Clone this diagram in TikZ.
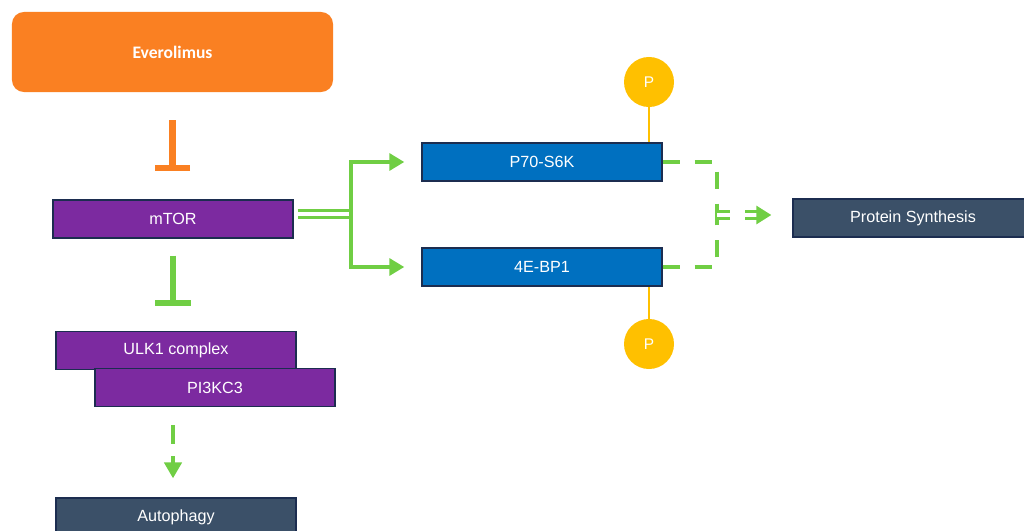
\documentclass[tikz,border=0pt]{standalone}
\usepackage{fontspec}
\setmainfont{Liberation Sans}
\newfontfamily\drugfont{Carlito}
\usetikzlibrary{arrows.meta}

\definecolor{drugorange}{RGB}{250,128,34}
\definecolor{mtorpurple}{RGB}{124,42,160}
\definecolor{kinaseblue}{RGB}{0,112,192}
\definecolor{outslate}{RGB}{59,80,104}
\definecolor{boxline}{RGB}{28,45,80}
\definecolor{actgreen}{RGB}{112,206,68}
\definecolor{pgold}{RGB}{255,192,0}

\tikzset{
  box/.style={draw=boxline, line width=0.9pt, minimum width=6cm, minimum height=0.95cm,
    inner sep=0pt, text=white, font=\fontsize{11.5}{13}\selectfont},
  act/.style={draw=actgreen, line width=2.8pt, -{Triangle[length=0.375cm,width=0.42cm]}},
  dashline/.style={draw=actgreen, line width=2.8pt, dash pattern=on 0.425cm off 0.375cm},
  dbl/.style={draw=actgreen, line width=2.1pt, double=white, double distance=3pt},
  blocked/.style={line width=4.3pt, -{Bar[width=0.875cm]}},
  phos/.style={circle, fill=pgold, minimum size=1.25cm, inner sep=0pt, text=white,
    font=\fontsize{11}{13}\selectfont},
  plink/.style={draw=pgold, line width=1.6pt},
}

\begin{document}
\begin{tikzpicture}[x=0.025cm, y=-0.025cm]
    \clip (0,0) rectangle (1024,531);

    % drug and targets
    \node[fill=drugorange, rounded corners=0.3cm, minimum width=8.025cm, minimum height=2cm,
      text=white, font=\drugfont\bfseries\fontsize{12.5}{14}\selectfont] (ever) at (172.5,52) {Everolimus};
    \node[box, fill=mtorpurple] (mtor) at (173,219) {mTOR};
    \node[box, fill=mtorpurple] (ulk) at (176,350.5) {ULK1 complex};
    \node[box, fill=mtorpurple] (pik) at (215,387.5) {PI3KC3};
    \node[box, fill=outslate] (auto) at (176,517) {Autophagy};

    \node[box, fill=kinaseblue] (s6k) at (542,162) {P70-S6K};
    \node[box, fill=kinaseblue] (ebp) at (542,267) {4E-BP1};
    \node[box, fill=outslate] (prot) at (913,218) {Protein Synthesis};

    % phosphate groups
    \node[phos] (pa) at (649,82) {P};
    \node[phos] (pb) at (649,344) {P};
    \draw[plink] (pa.south) -- (pa.south |- s6k.north);
    \draw[plink] (pb.north) -- (pb.north |- ebp.south);

    % inhibition
    \draw[blocked, drugorange, shorten <=0.7cm, shorten >=0.71cm] (ever.south) -- (ever.south |- mtor.north);
    \draw[blocked, actgreen, shorten <=0.425cm, shorten >=0.62cm] (mtor.south) -- (mtor.south |- ulk.north);

    % activation
    \coordinate (split) at (351,214);
    \coordinate (join) at (717,215);
    \draw[dbl, shorten <=0.1cm] (mtor.east |- split) -- (split);
    \draw[act, shorten >=0.425cm] (split) |- (s6k.west);
    \draw[act, shorten >=0.425cm] (split) |- (ebp.west);
    \draw[dashline] (s6k.east) -| (join);
    \draw[dashline] (ebp.east) -| (join);
    \draw[dbl, dash pattern=on 0.325cm off 0.375cm, -{Triangle[length=0.375cm,width=0.45cm]},
      shorten >=0.525cm] (join) -- (join -| prot.west);
    \draw[act, dash pattern=on 0.475cm off 0.3cm, -{Triangle[length=0.4cm,width=0.43cm]},
      shorten <=0.45cm, shorten >=0.475cm] (pik.south -| mtor.south) -- (auto.north -| mtor.south);

\end{tikzpicture}
\end{document}
